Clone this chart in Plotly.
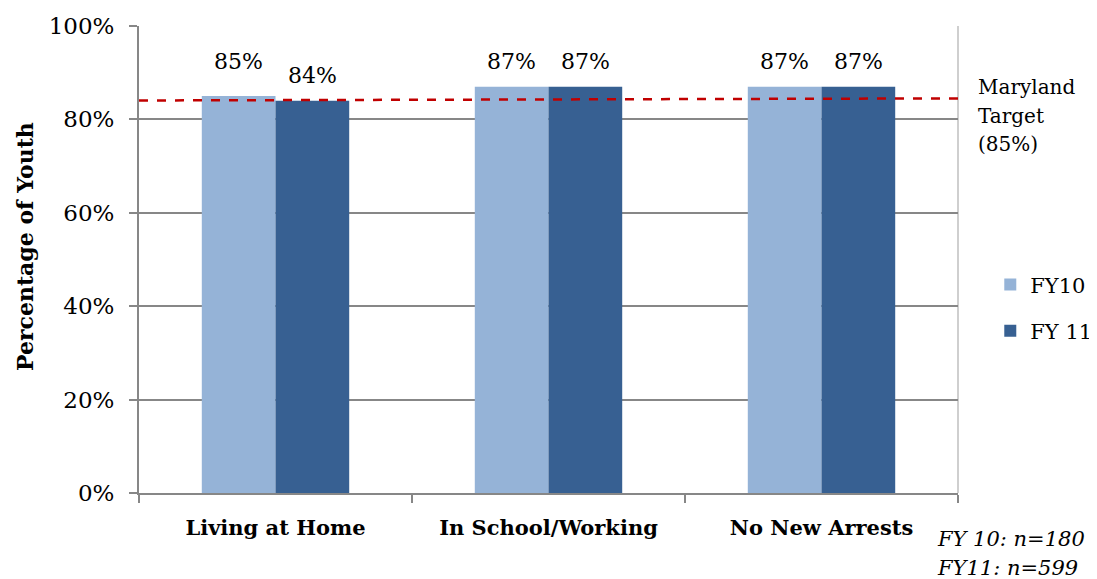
import plotly.graph_objects as go

CATEGORIES = ["Living at Home", "In School/Working", "No New Arrests"]
FY10 = [85, 87, 87]
FY11 = [84, 87, 87]
SERIES_NAMES = ["FY10", "FY 11"]
TARGET_START = 84.05  # dashed target line height at left edge of plot
TARGET_END = 84.5     # and at right edge
Y_TICKS = [0, 20, 40, 60, 80, 100]
Y_TITLE = "Percentage of Youth"
TARGET_LINES = ["Maryland", "Target", "(85%)"]
NOTE_LINES = ["FY 10: n=180", "FY11: n=599"]

LIGHT = "#95B3D7"
DARK = "#376092"
GRID = "#878787"
FONT = "DejaVu Serif"
BARGAP = 0.46

fig = go.Figure()
for name, vals, color in ((SERIES_NAMES[0], FY10, LIGHT), (SERIES_NAMES[1], FY11, DARK)):
    fig.add_bar(
        x=CATEGORIES, y=vals, name=name, legendgroup=name,
        marker={"color": color, "line": {"width": 0}},
    )

# value labels above each bar
half = (1 - BARGAP) / 4
lift = [[20, 11, 11], [11, 11, 11]]
for s, vals in enumerate((FY10, FY11)):
    for i, v in enumerate(vals):
        fig.add_annotation(
            x=i + (-half if s == 0 else half), y=v, text=f"{v}%",
            showarrow=False, yanchor="bottom", yshift=lift[s][i],
            font={"size": 22, "color": "#000000", "family": FONT},
        )

fig.add_shape(
    type="line", xref="paper", yref="y", x0=0, x1=1, y0=TARGET_START, y1=TARGET_END,
    line={"color": "#C00000", "width": 2.5, "dash": "dash"}, layer="above",
)
fig.add_shape(
    type="line", xref="paper", yref="paper", x0=1, x1=1, y0=0, y1=1,
    line={"color": "#BFBFBF", "width": 1.5}, layer="below",
)
for k, line in enumerate(TARGET_LINES):
    fig.add_annotation(
        xref="paper", yref="paper", x=1.022, y=(493 - 87 - 28.5 * k) / 467,
        xanchor="left", yanchor="middle", text=line, showarrow=False,
        font={"size": 20, "color": "#000000", "family": FONT},
    )
for k, line in enumerate(NOTE_LINES):
    fig.add_annotation(
        xref="paper", yref="paper", x=0.972, y=(493 - 539 - 29 * k) / 467,
        xanchor="left", yanchor="middle", text=f"<i>{line}</i>", showarrow=False,
        font={"size": 21, "color": "#000000", "family": FONT},
    )
# y-axis title, sitting a little above the plot's centre as in the original
fig.add_annotation(
    xref="paper", yref="paper", x=(25 - 139) / 819, y=(493 - 247) / 467,
    xanchor="center", yanchor="middle", textangle=-90, showarrow=False,
    text=f"<b>{Y_TITLE}</b>", font={"size": 22, "color": "#000000", "family": FONT},
)

# page body adds an 8px margin, so the figure is 8px smaller than the window
fig.update_layout(
    width=1089, height=571,
    margin={"l": 131, "r": 139, "t": 18, "b": 86},
    paper_bgcolor="white", plot_bgcolor="white",
    barmode="group", bargap=BARGAP, bargroupgap=0,
    font={"family": FONT, "color": "#000000"},
    showlegend=True,
    legend={
        "xref": "container", "yref": "container",
        "x": 0.902, "y": 0.551, "xanchor": "left", "yanchor": "top",
        "font": {"size": 21, "family": FONT},
        "tracegroupgap": 16, "traceorder": "grouped",
        "bgcolor": "rgba(0,0,0,0)",
    },
)
fig.update_xaxes(
    showline=True, linecolor=GRID, linewidth=2, automargin=False,
    ticks="outside", tickson="boundaries", ticklen=8, tickcolor=GRID, tickwidth=2,
    tickfont={"size": 21, "family": FONT, "weight": "bold"}, ticklabelstandoff=15,
    showgrid=False, range=[-0.5, 2.5],
)
fig.update_yaxes(
    range=[0, 100], tickvals=Y_TICKS, ticktext=[f"{t}%" for t in Y_TICKS],
    showline=True, linecolor=GRID, linewidth=2, automargin=False,
    ticks="outside", ticklen=8, tickcolor=GRID, tickwidth=2, ticklabelstandoff=10,
    showgrid=True, gridcolor=GRID, gridwidth=1.5, zeroline=False,
    tickfont={"size": 23, "family": FONT},
)

fig.write_html("out.html")
